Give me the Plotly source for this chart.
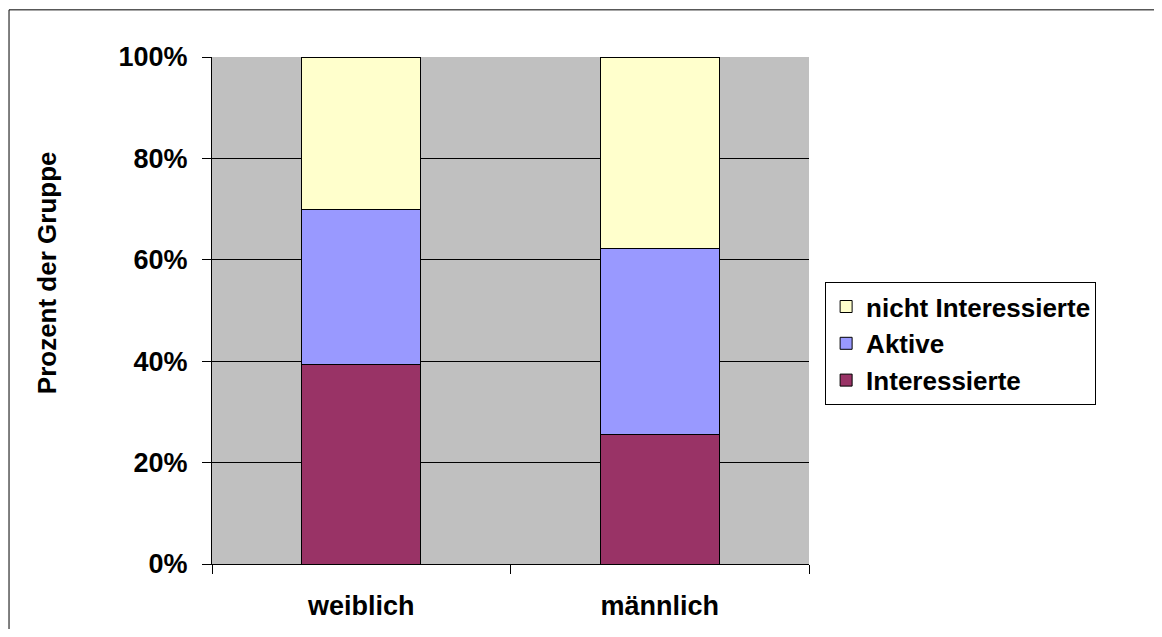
import plotly.graph_objects as go

# Daten (Prozent der Gruppe)
gruppen = ['weiblich', 'männlich']
interessierte = [39.3, 25.5]
aktive = [30.7, 36.7]
nicht_interessierte = [30.0, 37.8]

FONT = 'Liberation Sans, Arial, sans-serif'

fig = go.Figure()
serien = [
    ('Interessierte', interessierte, '#993366'),
    ('Aktive', aktive, '#9999FF'),
    ('nicht Interessierte', nicht_interessierte, '#FFFFCC'),
]
for name, werte, farbe in serien:
    fig.add_trace(go.Bar(
        x=gruppen, y=werte, name=name,
        marker=dict(color=farbe, line=dict(color='black', width=1)),
        width=0.4,
    ))

# äußerer Rahmen, rechts und unten abgeschnitten wie im Original
fig.add_shape(type='rect', xref='paper', yref='paper',
              x0=-0.340, x1=1.8, y0=-0.3, y1=1.093,
              line=dict(color='black', width=1), layer='below')

# Achsentitel als Annotation, da er nicht mittig zur Plotfläche sitzt
fig.add_annotation(
    text='Prozent der Gruppe', textangle=-90,
    xref='paper', yref='paper', x=-0.276, y=0.574,
    xanchor='center', yanchor='middle', showarrow=False,
    font=dict(family=FONT, size=26, weight='bold', color='black'),
)

# die Seite hat 8px Rand, daher alles um 8px verschoben
fig.update_layout(
    barmode='stack',
    width=1146, height=621,
    margin=dict(l=204, r=345, t=49, b=65, autoexpand=False),
    paper_bgcolor='white',
    plot_bgcolor='#C0C0C0',
    font=dict(family=FONT, color='black', size=27),
    showlegend=True,
    legend=dict(
        x=1.027, y=0.556, xanchor='left', yanchor='top',
        traceorder='reversed',
        bgcolor='white', bordercolor='black', borderwidth=1,
        font=dict(family=FONT, size=26, color='black', weight='bold'),
        itemwidth=30, tracegroupgap=0,
    ),
)

fig.update_xaxes(
    type='category', tickson='boundaries', automargin=False,
    showgrid=False, showline=True, linecolor='black', linewidth=1,
    ticks='outside', ticklen=9, tickcolor='black',
    tickfont=dict(family=FONT, size=27, weight='bold'),
    ticklabelstandoff=18,
)
fig.update_yaxes(
    range=[0, 100], dtick=20, ticksuffix='%', automargin=False,
    showgrid=True, gridcolor='black', gridwidth=1, zeroline=False,
    showline=True, linecolor='black', linewidth=1,
    ticks='outside', ticklen=9, tickcolor='black',
    tickfont=dict(family=FONT, size=27, weight='bold'),
    ticklabelstandoff=9,
)

fig.write_html('out.html')
